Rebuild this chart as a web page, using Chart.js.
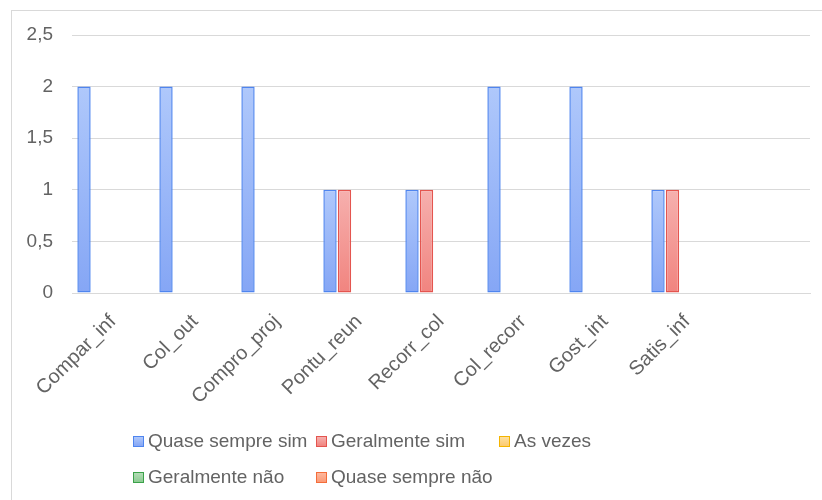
<!DOCTYPE html>
<html lang="pt-BR">
<head>
<meta charset="utf-8">
<title>Respostas por item</title>
<script src="https://cdn.jsdelivr.net/npm/chart.js@4/dist/chart.umd.min.js"></script>
<style>
  html, body { margin: 0; padding: 0; background: #fff; overflow: hidden; }
  body { width: 822px; height: 500px; position: relative; font-family: "Liberation Sans", Arial, sans-serif; }
  #frame { position: absolute; left: 11px; top: 10px; width: 900px; height: 600px; border: 1px solid #d9d9d9; box-sizing: border-box; }
  #wrap { position: absolute; left: 0; top: 0; width: 822px; height: 500px; }
  #legend { position: absolute; left: 133px; top: 429px; display: grid; grid-template-columns: 183px 183px 183px; row-gap: 12px; }
  .item { display: flex; align-items: center; height: 24px; color: #636363; font-size: 19px; white-space: nowrap; }
  .box { width: 9px; height: 9px; border: 1px solid; margin-right: 4px; flex: none; }
</style>
</head>
<body>
<div id="frame"></div>
<div id="wrap"><canvas id="grafico"></canvas></div>
<div id="legend"></div>
<script>
// categorias do eixo X (a última fica vazia)
const categorias = ['Compar_inf', 'Col_out', 'Compro_proj', 'Pontu_reun', 'Recorr_col', 'Col_recorr', 'Gost_int', 'Satis_inf', ''];

// frequência de cada resposta por item
const quaseSempreSim = [2, 2, 2, 1, 1, 2, 2, 1, null];
const geralmenteSim  = [0, 0, 0, 1, 1, 0, 0, 1, null];
const asVezes        = [0, 0, 0, 0, 0, 0, 0, 0, null];
const geralmenteNao  = [0, 0, 0, 0, 0, 0, 0, 0, null];
const quaseSempreNao = [0, 0, 0, 0, 0, 0, 0, 0, null];

const eixoY = { min: 0, max: 2.5, passo: 0.5 };

const cinza = '#636363';
const grade = '#d9d9d9';

// cores: [topo, base, borda]
const paleta = {
  azul:    ['#afc8fb', '#85a6f5', '#4f85ef'],
  vermelho:['#f6b0ae', '#f1847f', '#e4554f'],
  amarelo: ['#fde0a0', '#fcca70', '#f4b400'],
  verde:   ['#b3dcb6', '#8ccb92', '#3ba24a'],
  laranja: ['#fdb89e', '#fb9a76', '#f46d3a']
};

function gradiente(cores){
  return function(ctx){
    const chart = ctx.chart;
    const v = ctx.raw;
    if(!chart.chartArea || !v) return cores[1];
    const y = chart.scales.y;
    const topo = y.getPixelForValue(v);
    const base = y.getPixelForValue(0);
    const g = chart.ctx.createLinearGradient(0, topo, 0, base);
    g.addColorStop(0, cores[0]);
    g.addColorStop(1, cores[1]);
    return g;
  };
}

function serie(label, data, cores){
  return {
    label,
    data,
    backgroundColor: gradiente(cores),
    borderColor: cores[2],
    borderWidth: 1.5,
    borderSkipped: false,
    categoryPercentage: 0.884,
    barPercentage: 0.92,
    _cores: cores
  };
}

const series = [
  serie('Quase sempre sim', quaseSempreSim, paleta.azul),
  serie('Geralmente sim', geralmenteSim, paleta.vermelho),
  serie('As vezes', asVezes, paleta.amarelo),
  serie('Geralmente não', geralmenteNao, paleta.verde),
  serie('Quase sempre não', quaseSempreNao, paleta.laranja)
];

const fonte = { family: '"Liberation Sans", Arial, sans-serif', size: 19 };

const grafico = new Chart(document.getElementById('grafico'), {
  type: 'bar',
  data: { labels: categorias, datasets: series },
  options: {
    responsive: true,
    maintainAspectRatio: false,
    animation: false,
    layout: { padding: { left: 11, right: 12, top: 35, bottom: 0 } },
    plugins: { legend: { display: false }, tooltip: { enabled: false } },
    scales: {
      x: {
        grid: { display: false },
        border: { display: true, color: grade },
        ticks: { color: cinza, font: { ...fonte, size: 20 }, minRotation: 45, maxRotation: 45, padding: 9, autoSkip: false },
        afterFit: s => { s.height = 207; }
      },
      y: {
        min: eixoY.min,
        max: eixoY.max,
        grid: { color: grade, drawTicks: false },
        border: { display: false },
        ticks: {
          stepSize: eixoY.passo,
          color: cinza,
          font: fonte,
          padding: 19,
          callback: v => String(v).replace('.', ',')
        },
        afterFit: s => { s.width = 61; }
      }
    }
  }
});

// legenda em grade, montada a partir das séries
const leg = document.getElementById('legend');
grafico.data.datasets.forEach(ds => {
  const item = document.createElement('div');
  item.className = 'item';
  const box = document.createElement('span');
  box.className = 'box';
  box.style.background = `linear-gradient(${ds._cores[0]}, ${ds._cores[1]})`;
  box.style.borderColor = ds._cores[2];
  item.appendChild(box);
  item.appendChild(document.createTextNode(ds.label));
  leg.appendChild(item);
});
</script>
</body>
</html>
